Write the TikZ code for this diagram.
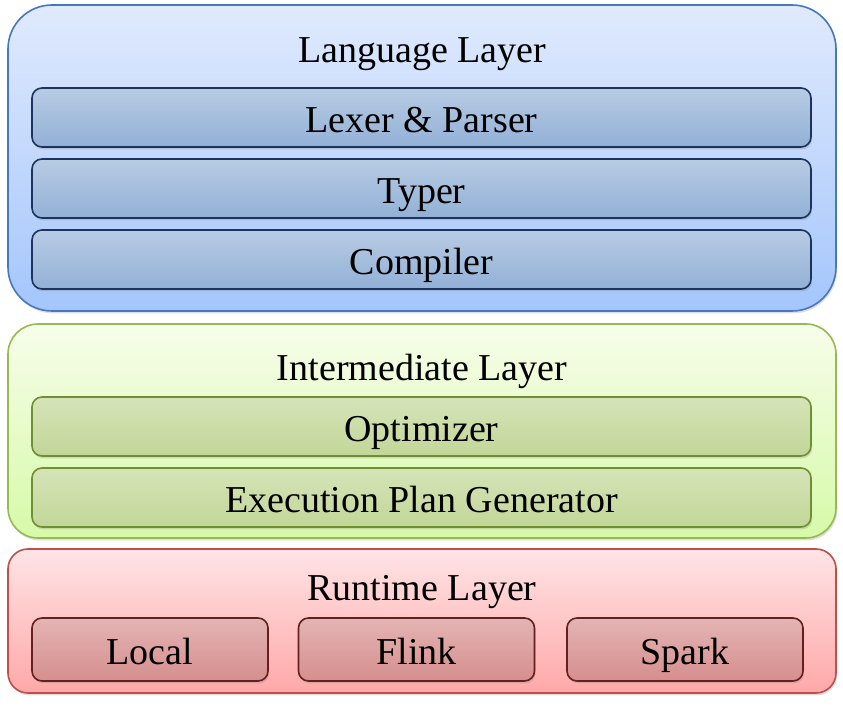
\documentclass[tikz,border=0pt]{standalone}
\usepackage{fontspec}
\setmainfont{Liberation Serif}
\usetikzlibrary{shadows}

\definecolor{langtop}{RGB}{224,234,253}
\definecolor{langbot}{RGB}{164,198,252}
\definecolor{langline}{RGB}{70,120,190}
\definecolor{lexertop}{RGB}{184,204,228}
\definecolor{lexerbot}{RGB}{146,176,214}
\definecolor{lexerline}{RGB}{28,52,92}
\definecolor{midtop}{RGB}{247,253,234}
\definecolor{midbot}{RGB}{214,250,168}
\definecolor{midline}{RGB}{150,186,80}
\definecolor{opttop}{RGB}{214,228,184}
\definecolor{optbot}{RGB}{194,214,152}
\definecolor{optline}{RGB}{112,142,52}
\definecolor{runtop}{RGB}{255,228,230}
\definecolor{runbot}{RGB}{255,168,168}
\definecolor{runline}{RGB}{192,78,74}
\definecolor{enginetop}{RGB}{228,180,180}
\definecolor{enginebot}{RGB}{214,142,142}
\definecolor{engineline}{RGB}{100,32,32}

\begin{document}
\begin{tikzpicture}[x=0.5pt,y=-0.5pt,
    layer/.style={draw, line width=0.8pt, minimum width=414pt,
        drop shadow={shadow xshift=0.6pt, shadow yshift=-1.2pt, opacity=0.25}},
    part/.style={draw, line width=0.8pt, rounded corners=5pt,
        minimum width=389.5pt, minimum height=29.5pt,
        text height=15.5pt, text depth=0.5pt,
        drop shadow={shadow xshift=0.6pt, shadow yshift=-1.2pt, opacity=0.25}},
    engine/.style={part, minimum width=118pt, minimum height=31.5pt,
        text height=15.5pt, text depth=0pt},
    title/.style={anchor=base},
    every node/.append style={font=\fontsize{19}{22}\selectfont}]
    \useasboundingbox (0,0) rectangle (843,706);

    % Language layer
    \node[layer, rounded corners=22pt, minimum height=153pt, draw=langline,
        top color=langtop, bottom color=langbot] (lang) at (422,158) {};
    \node[title] (langtitle) at (422,63) {Language Layer};
    \node[part, draw=lexerline, top color=lexertop, bottom color=lexerbot]
        (lexer) at (421.5,117.5) {Lexer \& Parser};
    \node[part, draw=lexerline, top color=lexertop, bottom color=lexerbot]
        (typer) at (421.5,188.5) {Typer};
    \node[part, draw=lexerline, top color=lexertop, bottom color=lexerbot]
        (compiler) at (421.5,259.5) {Compiler};

    % Intermediate layer
    \node[layer, rounded corners=15pt, minimum height=107pt, draw=midline,
        top color=midtop, bottom color=midbot] (mid) at (422,431) {};
    \node[title] (midtitle) at (422,381) {Intermediate Layer};
    \node[part, draw=optline, top color=opttop, bottom color=optbot]
        (optimizer) at (421.5,426.5) {Optimizer};
    \node[part, draw=optline, top color=opttop, bottom color=optbot]
        (planner) at (421.5,497.5) {Execution Plan Generator};

    % Runtime layer
    \node[layer, rounded corners=10pt, minimum height=72pt, draw=runline,
        top color=runtop, bottom color=runbot] (run) at (422,621) {};
    \node[title] (runtitle) at (422,601) {Runtime Layer};
    \node[engine, draw=engineline, top color=enginetop, bottom color=enginebot]
        (local) at (150,649.5) {Local};
    \node[engine, draw=engineline, top color=enginetop, bottom color=enginebot]
        (flink) at (416.5,649.5) {Flink};
    \node[engine, draw=engineline, top color=enginetop, bottom color=enginebot]
        (spark) at (685,649.5) {Spark};
\end{tikzpicture}
\end{document}
